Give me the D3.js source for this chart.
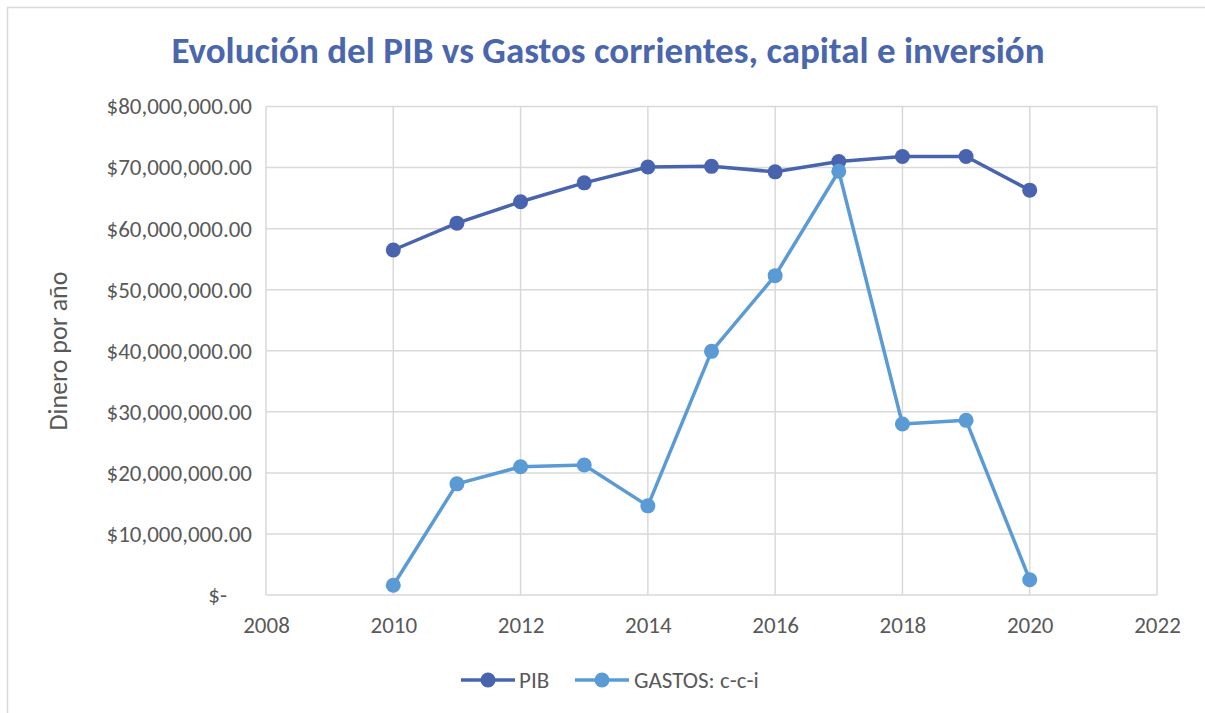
<!DOCTYPE html>
<html>
<head>
<meta charset="utf-8">
<script src="https://cdn.jsdelivr.net/npm/d3@7"></script>
<style>
  html, body { margin: 0; padding: 0; background: #fff; }
  svg { display: block; }
</style>
</head>
<body>
<svg id="chart" width="1205" height="713"></svg>
<script>
const years = [2010, 2011, 2012, 2013, 2014, 2015, 2016, 2017, 2018, 2019, 2020];
const pib = [56500000, 60900000, 64400000, 67500000, 70100000, 70200000, 69300000, 71000000, 71800000, 71800000, 66300000];
const gastos = [1600000, 18200000, 21000000, 21300000, 14600000, 39900000, 52300000, 69400000, 28000000, 28600000, 2500000];
const xTicks = [2008, 2010, 2012, 2014, 2016, 2018, 2020, 2022];
const yTicks = [0, 10000000, 20000000, 30000000, 40000000, 50000000, 60000000, 70000000, 80000000];
const seriesNames = ["PIB", "GASTOS: c-c-i"];
const colors = ["#4964AE", "#5B9BD5"];
const titleText = "Evolución del PIB vs Gastos corrientes, capital e inversión";
const yTitle = "Dinero por año";

(function () {
const svg = d3.select("#chart");
const font = "Calibri, Carlito, 'Open Sans', 'Noto Sans', sans-serif";

// chart border
svg.append("rect").attr("x", 7.5).attr("y", 7.5).attr("width", 1240).attr("height", 760)
  .attr("fill", "#fff").attr("stroke", "#d9d9d9").attr("stroke-width", 1.5);

const pLeft = 266, pRight = 1157, pTop = 106.5, pBottom = 595;
const x = d3.scaleLinear().domain([2008, 2022]).range([pLeft, pRight]);
const y = d3.scaleLinear().domain([0, 80000000]).range([pBottom, pTop]);

// gridlines
svg.append("g").selectAll("line").data(yTicks).join("line")
  .attr("x1", pLeft).attr("x2", pRight)
  .attr("y1", d => y(d)).attr("y2", d => y(d))
  .attr("stroke", "#d9d9d9").attr("stroke-width", 1.5);
svg.append("g").selectAll("line").data(xTicks).join("line")
  .attr("y1", pTop).attr("y2", pBottom)
  .attr("x1", d => x(d)).attr("x2", d => x(d))
  .attr("stroke", "#d9d9d9").attr("stroke-width", 1.5);

// axes
const fmt = d => d === 0 ? "$-" : "$" + d3.format(",.2f")(d);
const yAxis = svg.append("g").attr("transform", `translate(${pLeft},0)`)
  .call(d3.axisLeft(y).tickValues(yTicks).tickFormat(fmt).tickSize(0).tickPadding(14));
yAxis.select(".domain").remove();
yAxis.selectAll("text").attr("font-family", font).attr("font-size", 23).attr("fill", "#595959");
yAxis.selectAll("text").filter(d => d === 0).attr("dx", -25);

const xAxis = svg.append("g").attr("transform", `translate(0,${pBottom})`)
  .call(d3.axisBottom(x).tickValues(xTicks).tickFormat(d3.format("d")).tickSize(0).tickPadding(22));
xAxis.select(".domain").remove();
xAxis.selectAll("text").attr("font-family", font).attr("font-size", 23).attr("fill", "#595959");

// title
svg.append("text").attr("x", 608).attr("y", 63).attr("text-anchor", "middle")
  .attr("font-family", font).attr("font-weight", "bold").attr("font-size", 37)
  .attr("fill", "#4A66AC").text(titleText);

// y title
svg.append("text").attr("transform", "translate(67,351) rotate(-90)")
  .attr("text-anchor", "middle").attr("font-family", font).attr("font-size", 26)
  .attr("fill", "#595959").text(yTitle);

// series
const data = [pib, gastos];
const line = d3.line().x((d, i) => x(years[i])).y(d => y(d));
data.forEach((vals, si) => {
  const g = svg.append("g");
  g.append("path").datum(vals).attr("d", line).attr("fill", "none")
    .attr("stroke", colors[si]).attr("stroke-width", 3.5).attr("stroke-linejoin", "round");
  g.selectAll("circle").data(vals).join("circle")
    .attr("cx", (d, i) => x(years[i])).attr("cy", d => y(d)).attr("r", 7.5)
    .attr("fill", colors[si]);
});

// legend
const legendItems = [{ x0: 461, tx: 519 }, { x0: 575, tx: 634 }];
seriesNames.forEach((name, i) => {
  const lg = svg.append("g");
  const ly = 680;
  lg.append("line").attr("x1", legendItems[i].x0).attr("x2", legendItems[i].x0 + 54)
    .attr("y1", ly).attr("y2", ly).attr("stroke", colors[i]).attr("stroke-width", 3.5);
  lg.append("circle").attr("cx", legendItems[i].x0 + 27).attr("cy", ly).attr("r", 7.5).attr("fill", colors[i]);
  lg.append("text").attr("x", legendItems[i].tx).attr("y", ly).attr("dy", "0.35em")
    .attr("font-family", font).attr("font-size", 23).attr("fill", "#595959").text(name);
});
})();
</script>
</body>
</html>
